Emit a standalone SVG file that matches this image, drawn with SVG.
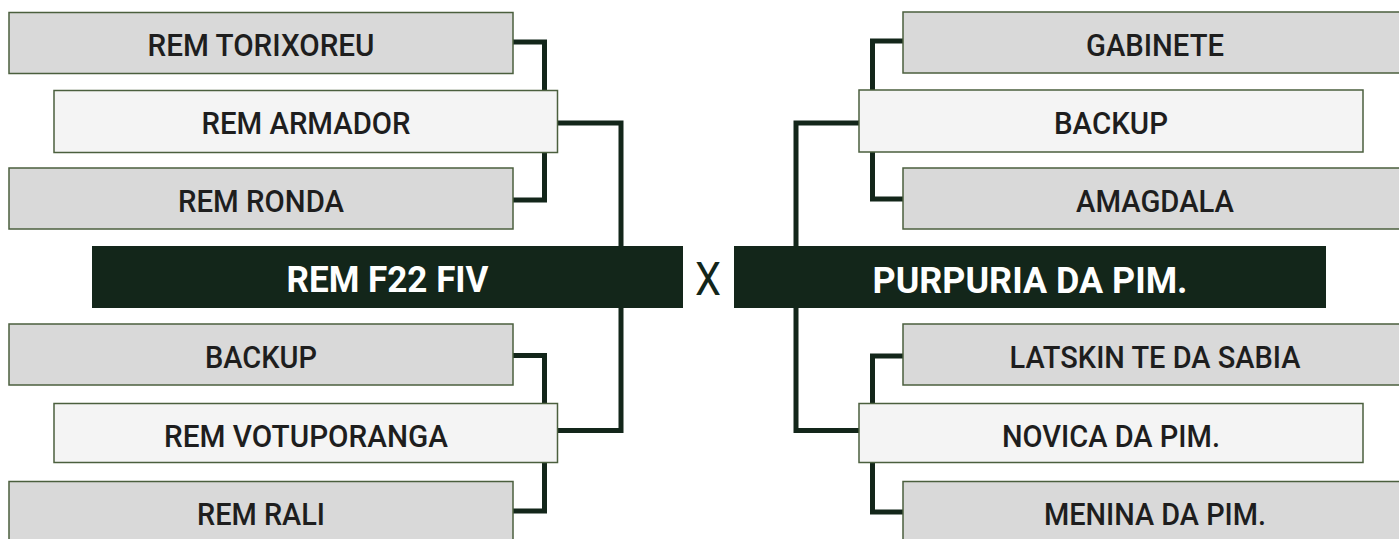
<svg xmlns="http://www.w3.org/2000/svg" width="1399" height="539" viewBox="0 0 1399 539">
  <style>
    .outer { fill: #d9d9d9; stroke: #4b5f3e; stroke-width: 1.5; }
    .mid { fill: #f4f4f4; stroke: #4b5f3e; stroke-width: 1.5; }
    .dark { fill: #13261a; }
    .lbl { font-family: Roboto, "Liberation Sans", sans-serif; font-size: 31px; font-weight: 500; fill: #1e1e1e; text-anchor: middle; }
    .dlbl { font-family: Roboto, "Liberation Sans", sans-serif; font-size: 36px; font-weight: 700; fill: #ffffff; text-anchor: middle; }
    .vs { font-family: Roboto, "Liberation Sans", sans-serif; font-size: 46px; font-weight: 400; fill: #13261a; text-anchor: middle; }
    .conn { fill: none; stroke: #13261a; stroke-width: 5; stroke-linejoin: miter; stroke-linecap: butt; }
  </style>
  <rect width="1399" height="539" fill="#ffffff"/>
  <g id="connectors">
    <path class="conn" d="M513,42 H544.5 V200 H513"/>
    <path class="conn" d="M557,123 H621 V430.5 H557"/>
    <path class="conn" d="M513,355.5 H544.5 V511 H513"/>
    <path class="conn" d="M903,41 H872.5 V199 H903"/>
    <path class="conn" d="M859,123 H796 V430.5 H859"/>
    <path class="conn" d="M903,356 H872.5 V512 H903"/>
  </g>
  <g id="rem-torixoreu">
    <rect class="outer" x="9" y="12.5" width="504" height="61"/>
    <text class="lbl" x="261" y="56" textLength="227" lengthAdjust="spacingAndGlyphs">REM TORIXOREU</text>
  </g>
  <g id="rem-armador">
    <rect class="mid" x="54" y="90.5" width="503.5" height="62"/>
    <text class="lbl" x="306" y="134.3" textLength="209" lengthAdjust="spacingAndGlyphs">REM ARMADOR</text>
  </g>
  <g id="rem-ronda">
    <rect class="outer" x="9" y="168" width="504" height="61"/>
    <text class="lbl" x="261" y="212" textLength="166" lengthAdjust="spacingAndGlyphs">REM RONDA</text>
  </g>
  <g id="rem-f22-fiv">
    <rect class="dark" x="92" y="246" width="591" height="62"/>
    <text class="dlbl" x="387.5" y="292.3" textLength="202" lengthAdjust="spacingAndGlyphs">REM F22 FIV</text>
  </g>
  <g id="versus">
    <text class="vs" x="708" y="295" textLength="26" lengthAdjust="spacingAndGlyphs">X</text>
  </g>
  <g id="backup-left">
    <rect class="outer" x="9" y="324" width="504" height="61"/>
    <text class="lbl" x="261" y="368" textLength="112" lengthAdjust="spacingAndGlyphs">BACKUP</text>
  </g>
  <g id="rem-votuporanga">
    <rect class="mid" x="54" y="403.5" width="503.5" height="59"/>
    <text class="lbl" x="306" y="446.7" textLength="284" lengthAdjust="spacingAndGlyphs">REM VOTUPORANGA</text>
  </g>
  <g id="rem-rali">
    <rect class="outer" x="9" y="481.5" width="504" height="62"/>
    <text class="lbl" x="261" y="525" textLength="128" lengthAdjust="spacingAndGlyphs">REM RALI</text>
  </g>
  <g id="gabinete">
    <rect class="outer" x="903" y="12" width="504" height="61"/>
    <text class="lbl" x="1155" y="55.5" textLength="138" lengthAdjust="spacingAndGlyphs">GABINETE</text>
  </g>
  <g id="backup-right">
    <rect class="mid" x="859" y="90" width="504" height="62"/>
    <text class="lbl" x="1111" y="134" textLength="114" lengthAdjust="spacingAndGlyphs">BACKUP</text>
  </g>
  <g id="amagdala">
    <rect class="outer" x="903" y="168" width="504" height="61"/>
    <text class="lbl" x="1155" y="212" textLength="158" lengthAdjust="spacingAndGlyphs">AMAGDALA</text>
  </g>
  <g id="purpuria-da-pim">
    <rect class="dark" x="734" y="246" width="592" height="62"/>
    <text class="dlbl" x="1030" y="292.5" textLength="315" lengthAdjust="spacingAndGlyphs">PURPURIA DA PIM.</text>
  </g>
  <g id="latskin-te-da-sabia">
    <rect class="outer" x="903" y="324" width="504" height="61"/>
    <text class="lbl" x="1155" y="368" textLength="291" lengthAdjust="spacingAndGlyphs">LATSKIN TE DA SABIA</text>
  </g>
  <g id="novica-da-pim">
    <rect class="mid" x="859" y="403.5" width="504" height="59"/>
    <text class="lbl" x="1111" y="446.7" textLength="218" lengthAdjust="spacingAndGlyphs">NOVICA DA PIM.</text>
  </g>
  <g id="menina-da-pim">
    <rect class="outer" x="903" y="481.5" width="504" height="62"/>
    <text class="lbl" x="1155" y="525" textLength="222" lengthAdjust="spacingAndGlyphs">MENINA DA PIM.</text>
  </g>
</svg>
